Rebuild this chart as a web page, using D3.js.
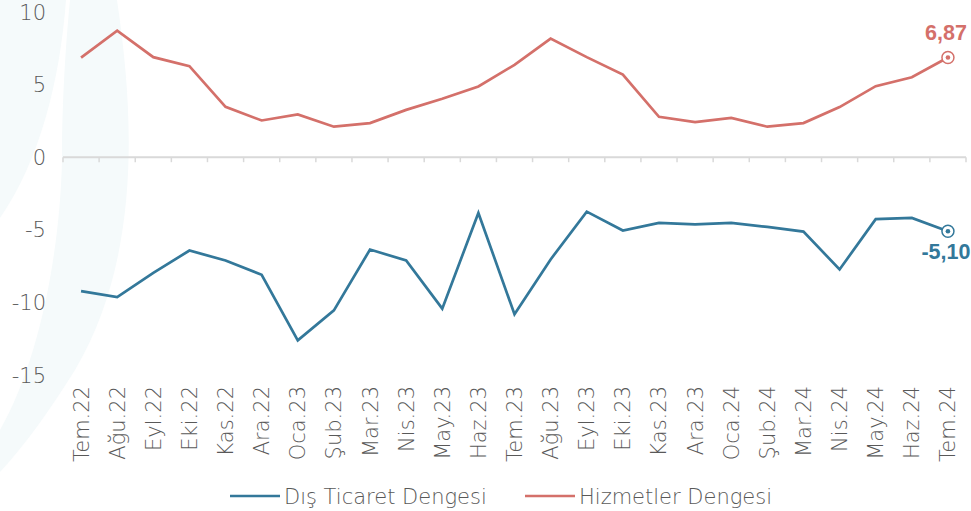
<!DOCTYPE html>
<html>
<head>
<meta charset="utf-8">
<script src="https://cdn.jsdelivr.net/npm/d3@7"></script>
<style>
  body { margin: 0; background: #fff; }
  text { font-family: "DejaVu Sans", sans-serif; font-weight: 300; }
</style>
</head>
<body>
<div id="chart"></div>
<script>
// month labels
var months = ["Tem.22","Ağu.22","Eyl.22","Eki.22","Kas.22","Ara.22","Oca.23","Şub.23","Mar.23","Nis.23","May.23","Haz.23",
              "Tem.23","Ağu.23","Eyl.23","Eki.23","Kas.23","Ara.23","Oca.24","Şub.24","Mar.24","Nis.24","May.24","Haz.24","Tem.24"];

// Dış Ticaret Dengesi
var disTicaret = [-9.22,-9.64,-7.96,-6.43,-7.11,-8.10,-12.61,-10.55,-6.36,-7.11,-10.43,-3.84,
                  -10.82,-7.04,-3.75,-5.05,-4.52,-4.62,-4.52,-4.80,-5.12,-7.73,-4.27,-4.18,-5.10];

// Hizmetler Dengesi
var hizmetler = [6.86,8.71,6.89,6.27,3.47,2.53,2.94,2.10,2.35,3.26,4.02,4.87,
                 6.36,8.17,6.89,5.69,2.78,2.42,2.71,2.10,2.35,3.45,4.89,5.51,6.87];

var yTicks = [10, 5, 0, -5, -10, -15];

var width = 971, height = 511;
var blue = "#33789a", red = "#d4706a", grey = "#595959";

var svg = d3.select("#chart").append("svg")
    .attr("width", width)
    .attr("height", height);

// faint decorative background shapes on the left
svg.append("path")
    .attr("d", "M0,0 L66,0 C60,80 40,160 0,218 Z")
    .attr("fill", "#f5fafb");
svg.append("path")
    .attr("d", "M70,0 L117,0 C135,120 140,260 75,370 C50,410 25,445 0,472 L0,430 C40,360 60,250 62,160 C62,100 66,40 70,0 Z")
    .attr("fill", "#f5fafb");

var x = d3.scaleBand().domain(months).range([63, 966]);
var y = d3.scaleLinear().domain([-15, 10]).range([375, 12]);

// y axis labels
svg.selectAll(".ylab")
    .data(yTicks)
    .enter()
    .append("text")
    .attr("x", 46)
    .attr("y", function(d) { return y(d); })
    .attr("dy", "0.36em")
    .attr("text-anchor", "end")
    .style("font-size", "21px")
    .attr("fill", grey)
    .text(function(d) { return d; });

// zero axis with ticks
var xAxis = svg.append("g")
    .attr("transform", "translate(0," + y(0) + ")");
xAxis.append("line")
    .attr("x1", 63).attr("x2", 966)
    .attr("stroke", "#d9d9d9").attr("stroke-width", 2);
xAxis.selectAll(".tk")
    .data(months.concat(["end"]))
    .enter()
    .append("line")
    .attr("x1", function(d, i) { return 63 + i * x.step(); })
    .attr("x2", function(d, i) { return 63 + i * x.step(); })
    .attr("y1", 0).attr("y2", 5)
    .attr("stroke", "#d9d9d9").attr("stroke-width", 1.5);

// x labels (rotated)
svg.selectAll(".xlab")
    .data(months)
    .enter()
    .append("text")
    .attr("transform", function(d) {
        return "translate(" + (x(d) + x.bandwidth() / 2 + 7.5) + ",386) rotate(-90)";
    })
    .attr("text-anchor", "end")
    .style("font-size", "21px")
    .attr("fill", grey)
    .text(function(d) { return d; });

var line = d3.line()
    .x(function(d, i) { return x(months[i]) + x.bandwidth() / 2; })
    .y(function(d) { return y(d); });

svg.append("path")
    .datum(hizmetler)
    .attr("d", line)
    .attr("fill", "none")
    .attr("stroke", red)
    .attr("stroke-width", 2.7);

svg.append("path")
    .datum(disTicaret)
    .attr("d", line)
    .attr("fill", "none")
    .attr("stroke", blue)
    .attr("stroke-width", 2.7);

// end markers and labels
function endMark(series, color, dy) {
    var last = series.length - 1;
    var cx = x(months[last]) + x.bandwidth() / 2, cy = y(series[last]);
    svg.append("circle").attr("cx", cx).attr("cy", cy).attr("r", 6)
        .attr("fill", "#fff").attr("stroke", color).attr("stroke-width", 1.5);
    svg.append("circle").attr("cx", cx).attr("cy", cy).attr("r", 2.3)
        .attr("fill", color);
    svg.append("text")
        .attr("x", cx - 2)
        .attr("y", cy + dy)
        .attr("text-anchor", "middle")
        .style("font-family", "'Liberation Sans', Arial, sans-serif")
        .style("font-size", "21.5px")
        .style("font-weight", "bold")
        .attr("fill", color)
        .text(series[last].toFixed(2).replace(".", ","));
}
endMark(hizmetler, red, -17);
endMark(disTicaret, blue, 28);

// legend
var legend = [
    { name: "Dış Ticaret Dengesi", color: blue, x: 230 },
    { name: "Hizmetler Dengesi", color: red, x: 525 }
];
var lg = svg.selectAll(".lg").data(legend).enter().append("g");
lg.append("line")
    .attr("x1", function(d) { return d.x; })
    .attr("x2", function(d) { return d.x + 50; })
    .attr("y1", 496).attr("y2", 496)
    .attr("stroke", function(d) { return d.color; })
    .attr("stroke-width", 2.5);
lg.append("text")
    .attr("x", function(d) { return d.x + 54; })
    .attr("y", 496)
    .attr("dy", "0.36em")
    .style("font-size", "21px")
    .attr("fill", grey)
    .text(function(d) { return d.name; });
</script>
</body>
</html>
